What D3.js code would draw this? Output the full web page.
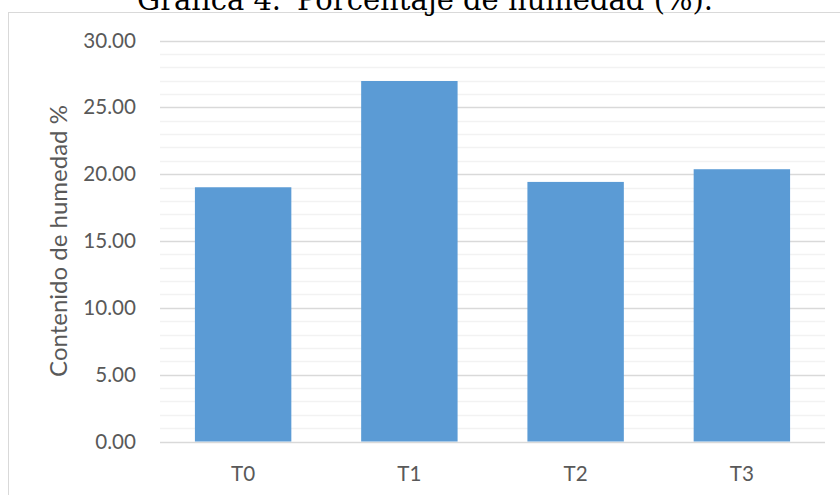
<!DOCTYPE html>
<html>
<head>
<meta charset="utf-8">
<script src="https://cdn.jsdelivr.net/npm/d3@7"></script>
<style>
  html, body { margin: 0; padding: 0; background: #fff; overflow: hidden; }
  svg { display: block; }
</style>
</head>
<body>
<svg id="chart" width="840" height="495"></svg>
<script>
// Moisture content per treatment
const categories = ["T0", "T1", "T2", "T3"];
const values = [19.02, 26.97, 19.42, 20.37];
const yTicks = [0, 5, 10, 15, 20, 25, 30];
const minorTicks = d3.range(0, 31, 1);
const titleParts = ["Gráfica 4.", "Porcentaje de humedad (%)."];
const yTitle = "Contenido de humedad %";

const svg = d3.select("#chart");
const W = 840, H = 495;
const plot = { left: 160, right: 825, top: 40.5, bottom: 441.5 };
const labelFont = "Lato, 'Open Sans', sans-serif";

// Chart frame (right and bottom edges run off the page)
svg.append("rect")
  .attr("x", 8.5).attr("y", 12.5)
  .attr("width", W + 10).attr("height", H + 10)
  .attr("fill", "#fff")
  .attr("stroke", "#d9d9d9").attr("stroke-width", 1);

// Caption above the frame, with a tab-like gap after the number
const title = svg.append("text")
  .attr("y", 10)
  .attr("font-family", "'DejaVu Serif', 'Liberation Serif', serif")
  .attr("font-size", 29)
  .attr("fill", "#000");
title.append("tspan").attr("x", 137).text(titleParts[0]);
title.append("tspan").attr("x", 297).text(titleParts[1]);

const x = d3.scaleBand()
  .domain(categories)
  .range([plot.left, plot.right])
  .paddingInner(0.42)
  .paddingOuter(0.21);

const y = d3.scaleLinear()
  .domain([0, 30])
  .range([plot.bottom, plot.top]);

// Minor gridlines
svg.append("g")
  .selectAll("line")
  .data(minorTicks.filter(v => v % 5 !== 0))
  .join("line")
  .attr("x1", plot.left).attr("x2", plot.right)
  .attr("y1", d => Math.round(y(d)) + 0.5).attr("y2", d => Math.round(y(d)) + 0.5)
  .attr("stroke", "#f2f2f2").attr("stroke-width", 1.5);

// Major gridlines
svg.append("g")
  .selectAll("line")
  .data(yTicks)
  .join("line")
  .attr("x1", plot.left).attr("x2", plot.right)
  .attr("y1", d => Math.round(y(d)) + 0.5).attr("y2", d => Math.round(y(d)) + 0.5)
  .attr("stroke", "#d9d9d9").attr("stroke-width", 1.5);

// Bars
svg.append("g")
  .selectAll("rect")
  .data(values)
  .join("rect")
  .attr("x", (d, i) => x(categories[i]))
  .attr("width", x.bandwidth())
  .attr("y", d => y(d))
  .attr("height", d => y(0) - y(d))
  .attr("fill", "#5b9bd5");

// Y axis tick labels
const yAxis = d3.axisLeft(y)
  .tickValues(yTicks)
  .tickFormat(d3.format(".2f"))
  .tickSize(0)
  .tickPadding(24);
const gy = svg.append("g")
  .attr("transform", `translate(${plot.left},0)`)
  .call(yAxis);
gy.select(".domain").remove();
gy.selectAll("text")
  .attr("font-family", labelFont)
  .attr("font-size", 20.6)
  .attr("fill", "#595959");

// X axis category labels
const xAxis = d3.axisBottom(x).tickSize(0).tickPadding(25);
const gx = svg.append("g")
  .attr("transform", `translate(0,${plot.bottom})`)
  .call(xAxis);
gx.select(".domain").remove();
gx.selectAll("text")
  .attr("font-family", labelFont)
  .attr("font-size", 20.6)
  .attr("fill", "#595959");

// Y axis title
svg.append("text")
  .attr("transform", `translate(67,${(plot.top + plot.bottom) / 2}) rotate(-90)`)
  .attr("text-anchor", "middle")
  .attr("font-family", labelFont)
  .attr("font-size", 24)
  .attr("fill", "#595959")
  .text(yTitle);
</script>
</body>
</html>
